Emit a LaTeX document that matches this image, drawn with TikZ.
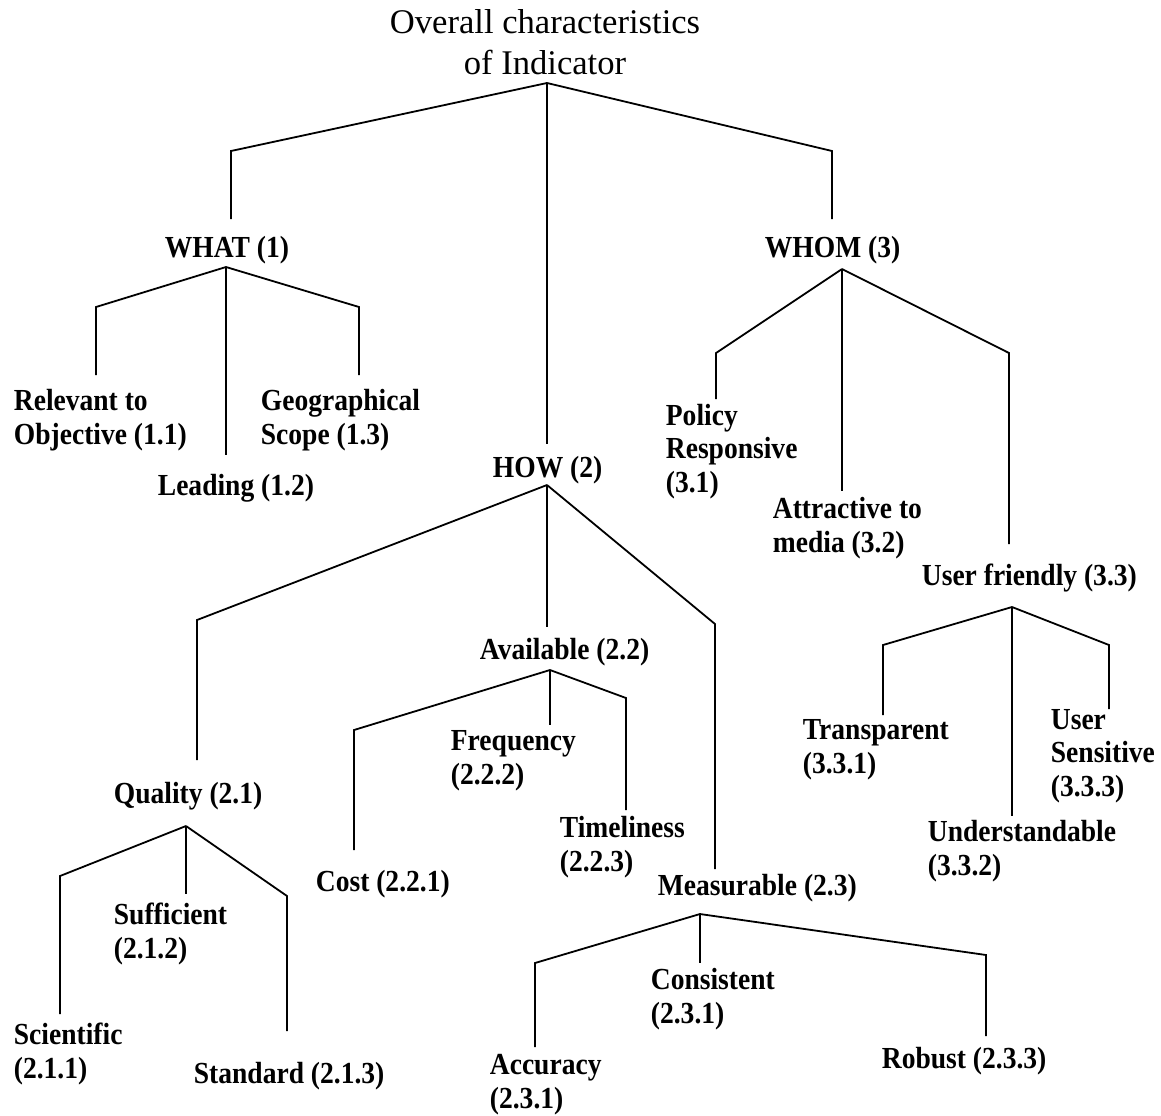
\documentclass[tikz,border=0pt]{standalone}
\usepackage{fontspec}
\setmainfont{Liberation Serif}
\newfontfamily\lblfont{Liberation Serif}[FakeStretch=0.9]

\begin{document}
\begin{tikzpicture}[x=0.5pt,y=-0.5pt,line width=0.9pt]
	\tikzstyle{head}=[font=\fontsize{17.3}{20.5}\selectfont, align=center, anchor=base, inner sep=0pt]
	\tikzstyle{item}=[font=\fontsize{15.3}{16.75}\selectfont\lblfont\bfseries, align=left, anchor=base west, inner sep=0pt]

    \useasboundingbox (0,0) rectangle (1161,1115);

    % labels (placed at the baseline of their last line)
    \node [head] (top) at (545,74) {Overall characteristics\\of Indicator};
    \node [item] (what) at (164,257) {WHAT (1)};
    \node [item] (how) at (492,477) {HOW (2)};
    \node [item] (whom) at (764,257) {WHOM (3)};

    \node [item] (rel) at (13,444) {Relevant to\\Objective (1.1)};
    \node [item] (lead) at (157,495) {Leading (1.2)};
    \node [item] (geo) at (260,444) {Geographical\\Scope (1.3)};

    \node [item] (pol) at (665,492) {Policy\\Responsive\\(3.1)};
    \node [item] (attr) at (772,552) {Attractive to\\media (3.2)};
    \node [item] (uf) at (921,585) {User friendly (3.3)};
    \node [item] (transp) at (802,773) {Transparent\\(3.3.1)};
    \node [item] (und) at (927,875) {Understandable\\(3.3.2)};
    \node [item] (usens) at (1050,796) {User\\Sensitive\\(3.3.3)};

    \node [item] (qual) at (113,803) {Quality (2.1)};
    \node [item] (avail) at (479,659) {Available (2.2)};
    \node [item] (meas) at (657,895) {Measurable (2.3)};

    \node [item] (sci) at (13,1078) {Scientific\\(2.1.1)};
    \node [item] (suff) at (113,958) {Sufficient\\(2.1.2)};
    \node [item] (std) at (193,1083) {Standard (2.1.3)};

    \node [item] (cost) at (315,891) {Cost (2.2.1)};
    \node [item] (freq) at (450,784) {Frequency\\(2.2.2)};
    \node [item] (time) at (559,871) {Timeliness\\(2.2.3)};

    \node [item] (acc) at (489,1108) {Accuracy\\(2.3.1)};
    \node [item] (cons) at (650,1023) {Consistent\\(2.3.1)};
    \node [item] (rob) at (881,1068) {Robust (2.3.3)};

    % junctions, elbows and ends
    \coordinate (top-j) at (547,83);
    \coordinate (what-e) at (231,151);   \coordinate (what-t) at (231,219);
    \coordinate (how-t) at (547,444);
    \coordinate (whom-e) at (832,151);   \coordinate (whom-t) at (832,219);

    \coordinate (what-j) at (226,267);
    \coordinate (rel-e) at (96,307);     \coordinate (rel-t) at (96,375);
    \coordinate (lead-t) at (226,455);
    \coordinate (geo-e) at (359,307);    \coordinate (geo-t) at (359,375);

    \coordinate (whom-j) at (842,269);
    \coordinate (pol-e) at (716,353);    \coordinate (pol-t) at (716,399);
    \coordinate (attr-t) at (842,491);
    \coordinate (uf-e) at (1009,353);    \coordinate (uf-t) at (1009,544);

    \coordinate (uf-j) at (1012,607);
    \coordinate (transp-e) at (883,645); \coordinate (transp-t) at (883,715);
    \coordinate (und-t) at (1012,816);
    \coordinate (usens-e) at (1109,645); \coordinate (usens-t) at (1109,709);

    \coordinate (how-j) at (547,485);
    \coordinate (qual-e) at (197,620);   \coordinate (qual-t) at (197,760);
    \coordinate (avail-t) at (547,627);
    \coordinate (meas-e) at (715,624);   \coordinate (meas-t) at (715,869);

    \coordinate (avail-j) at (550,670);
    \coordinate (cost-e) at (354,730);   \coordinate (cost-t) at (354,850);
    \coordinate (freq-t) at (550,725);
    \coordinate (time-e) at (626,698);   \coordinate (time-t) at (626,810);

    \coordinate (qual-j) at (186,826);
    \coordinate (sci-e) at (60,876);     \coordinate (sci-t) at (60,1014);
    \coordinate (suff-t) at (186,894);
    \coordinate (std-e) at (287,896);    \coordinate (std-t) at (287,1031);

    \coordinate (meas-j) at (700,914);
    \coordinate (acc-e) at (535,963);    \coordinate (acc-t) at (535,1047);
    \coordinate (cons-t) at (700,963);
    \coordinate (rob-e) at (986,955);    \coordinate (rob-t) at (986,1036);

    % branches
    \draw (top-j) -- (what-e) -- (what-t);
    \draw (top-j) -- (how-t);
    \draw (top-j) -- (whom-e) -- (whom-t);

    \draw (what-j) -- (rel-e) -- (rel-t);
    \draw (what-j) -- (lead-t);
    \draw (what-j) -- (geo-e) -- (geo-t);

    \draw (whom-j) -- (pol-e) -- (pol-t);
    \draw (whom-j) -- (attr-t);
    \draw (whom-j) -- (uf-e) -- (uf-t);

    \draw (uf-j) -- (transp-e) -- (transp-t);
    \draw (uf-j) -- (und-t);
    \draw (uf-j) -- (usens-e) -- (usens-t);

    \draw (how-j) -- (qual-e) -- (qual-t);
    \draw (how-j) -- (avail-t);
    \draw (how-j) -- (meas-e) -- (meas-t);

    \draw (avail-j) -- (cost-e) -- (cost-t);
    \draw (avail-j) -- (freq-t);
    \draw (avail-j) -- (time-e) -- (time-t);

    \draw (qual-j) -- (sci-e) -- (sci-t);
    \draw (qual-j) -- (suff-t);
    \draw (qual-j) -- (std-e) -- (std-t);

    \draw (meas-j) -- (acc-e) -- (acc-t);
    \draw (meas-j) -- (cons-t);
    \draw (meas-j) -- (rob-e) -- (rob-t);
\end{tikzpicture}
\end{document}
